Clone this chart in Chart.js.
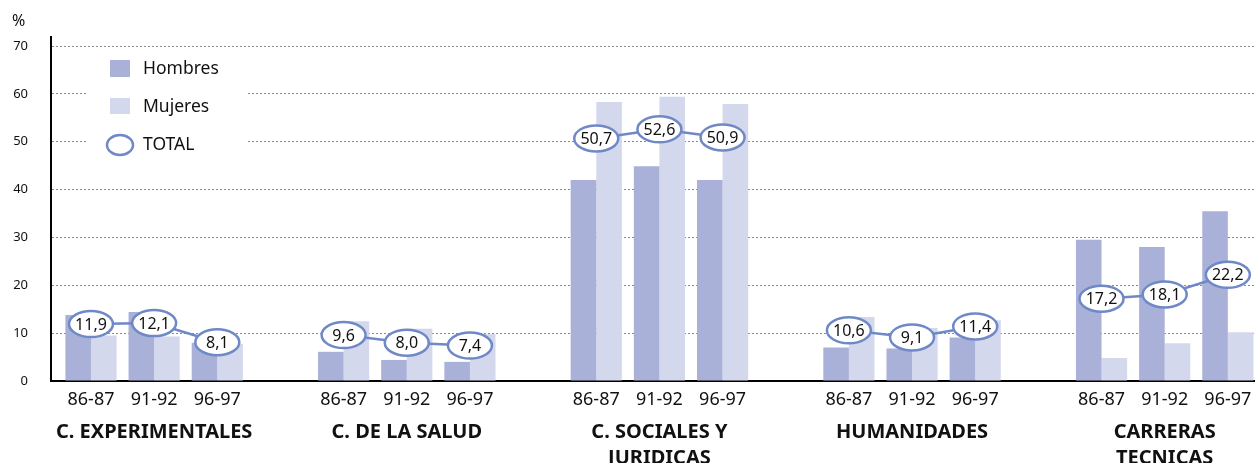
<!DOCTYPE html>
<html>
<head>
<meta charset="utf-8">
<script src="https://cdn.jsdelivr.net/npm/chart.js@4.4.0/dist/chart.umd.min.js"></script>
<style>
html, body { margin: 0; padding: 0; background: #fff; }
#wrap { width: 1255px; height: 463px; }
</style>
</head>
<body>
<div id="wrap"><canvas id="myChart"></canvas></div>
<script>
const periods = ['86-87', '91-92', '96-97'];
const groups = [['C. EXPERIMENTALES'], ['C. DE LA SALUD'], ['C. SOCIALES Y', 'JURIDICAS'], ['HUMANIDADES'], ['CARRERAS', 'TECNICAS']];
const hombres = [13.8, 14.4, 8.0, 6.1, 4.4, 4.0, 42.0, 44.9, 42.0, 7.0, 6.8, 9.1, 29.5, 28.0, 35.5];
const mujeres = [9.5, 9.3, 7.8, 12.5, 10.9, 9.8, 58.3, 59.4, 57.9, 13.4, 11.1, 12.7, 4.8, 7.9, 10.2];
const total = [11.9, 12.1, 8.1, 9.6, 8.0, 7.4, 50.7, 52.6, 50.9, 10.6, 9.1, 11.4, 17.2, 18.1, 22.2];
const yTicks = [0, 10, 20, 30, 40, 50, 60, 70];

const colHombres = '#a9b1d8';
const colMujeres = '#d4d8ec';
const colTotal = '#6f88c6';
const txt = '#111';
const font = '"Noto Sans", sans-serif';

// each group has 3 periods plus one empty slot
const slotOf = i => Math.floor(i / 3) * 4 + i % 3;
const slotLabels = {};
total.forEach((v, i) => { slotLabels[slotOf(i)] = periods[i % 3]; });
const totalPts = [];
total.forEach((v, i) => {
    totalPts.push({x: slotOf(i), y: v});
    if (i % 3 === 2 && i < total.length - 1) totalPts.push({x: slotOf(i) + 1, y: null});
});

const extras = {
    id: 'extras',
    beforeDatasetsDraw(chart) {
        const ctx = chart.ctx;
        ctx.save();
        // legend box
        ctx.fillStyle = '#fff';
        ctx.fillRect(88, 52, 160, 122);
        ctx.fillStyle = colHombres;
        ctx.fillRect(110, 60, 20, 17);
        ctx.fillStyle = colMujeres;
        ctx.fillRect(110, 98, 20, 16);
        ctx.beginPath();
        ctx.ellipse(120, 145, 13, 10, 0, 0, Math.PI * 2);
        ctx.strokeStyle = colTotal;
        ctx.lineWidth = 2.5;
        ctx.stroke();
        ctx.fillStyle = txt;
        ctx.font = '17.5px ' + font;
        ctx.textBaseline = 'middle';
        ctx.fillText('Hombres', 143, 69);
        ctx.fillText('Mujeres', 143, 107);
        ctx.fillText('TOTAL', 143, 145);
        // % label
        ctx.font = '16px ' + font;
        ctx.fillText('%', 12, 21);
        ctx.restore();
    },
    afterDatasetsDraw(chart) {
        const ctx = chart.ctx;
        const xs = chart.scales.x, ys = chart.scales.y;
        ctx.save();
        totalPts.forEach(p => {
            if (p.y === null) return;
            const px = xs.getPixelForValue(p.x), py = ys.getPixelForValue(p.y);
            ctx.beginPath();
            ctx.ellipse(px, py, 22, 13, 0, 0, Math.PI * 2);
            ctx.fillStyle = '#fff';
            ctx.fill();
            ctx.lineWidth = 2.5;
            ctx.strokeStyle = colTotal;
            ctx.stroke();
            ctx.fillStyle = txt;
            ctx.font = '16px ' + font;
            ctx.textAlign = 'center';
            ctx.textBaseline = 'middle';
            ctx.fillText(p.y.toFixed(1).replace('.', ','), px, py + 1);
        });
        // group names
        ctx.font = 'bold 20px ' + font;
        ctx.textAlign = 'center';
        ctx.textBaseline = 'middle';
        groups.forEach((lines, g) => {
            const px = xs.getPixelForValue(g * 4 + 1);
            lines.forEach((l, k) => ctx.fillText(l, px, 432 + k * 26));
        });
        ctx.restore();
    }
};

const ctx1 = document.getElementById('myChart');
const myChart = new Chart(ctx1, {
    type: 'bar',
    data: {
        datasets: [{
            type: 'line',
            label: 'TOTAL',
            data: totalPts,
            borderColor: colTotal,
            borderWidth: 2.5,
            pointRadius: 0,
            spanGaps: false,
            order: 0
        }, {
            label: 'Hombres',
            data: hombres.map((v, i) => ({x: slotOf(i), y: v})),
            backgroundColor: colHombres,
            categoryPercentage: 0.81,
            barPercentage: 1.0,
            order: 1
        }, {
            label: 'Mujeres',
            data: mujeres.map((v, i) => ({x: slotOf(i), y: v})),
            backgroundColor: colMujeres,
            categoryPercentage: 0.81,
            barPercentage: 1.0,
            order: 1
        }]
    },
    options: {
        responsive: true,
        maintainAspectRatio: false,
        animation: false,
        layout: { padding: { top: 37, left: 0, right: 0, bottom: 0 } },
        plugins: {
            legend: { display: false },
            tooltip: { enabled: false }
        },
        scales: {
            x: {
                type: 'linear',
                min: -0.633,
                max: 18.43,
                offset: false,
                afterBuildTicks: axis => { axis.ticks = Object.keys(slotLabels).map(k => ({value: +k})); },
                afterFit: axis => { axis.height = 82; axis.paddingLeft = 0; axis.paddingRight = 0; },
                grid: { display: false, drawTicks: false, offset: false },
                border: { display: true, color: '#000', width: 2 },
                ticks: {
                    autoSkip: false,
                    maxRotation: 0,
                    padding: 8,
                    color: txt,
                    font: { family: font, size: 18 },
                    callback: v => slotLabels[v] || ''
                }
            },
            y: {
                min: 0,
                max: 71.9,
                afterBuildTicks: axis => { axis.ticks = yTicks.map(v => ({value: v})); },
                afterFit: axis => { axis.width = 51; axis.paddingTop = 0; axis.paddingBottom = 0; },
                grid: { color: '#8a8a8a', lineWidth: 1, drawTicks: false },
                border: { display: true, color: '#000', width: 2, dash: [2, 2] },
                ticks: {
                    padding: 23,
                    color: txt,
                    font: { family: font, size: 13 }
                }
            }
        }
    },
    plugins: [extras]
});
</script>
</body>
</html>
